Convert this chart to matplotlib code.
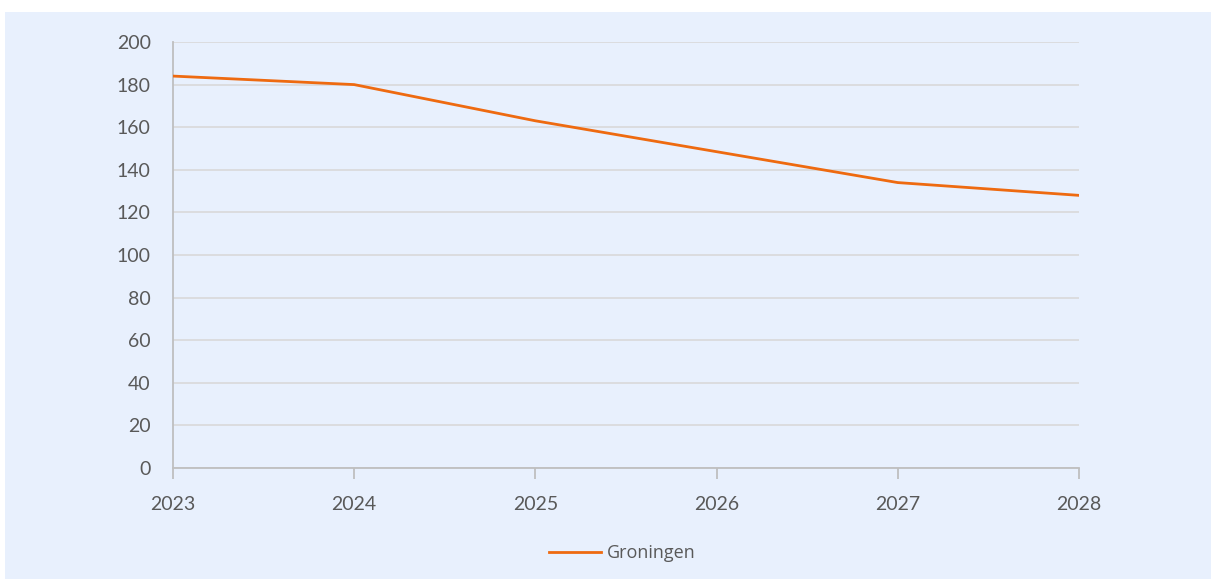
import matplotlib
matplotlib.use("Agg")
import matplotlib.pyplot as plt
from matplotlib.patches import Rectangle

# Data
years = [2023, 2024, 2025, 2026, 2027, 2028]
groningen = [184, 180, 163, 148.5, 134, 128]
y_ticks = [0, 20, 40, 60, 80, 100, 120, 140, 160, 180, 200]

BG = "#E8F0FD"
GRID = "#D9D9D9"
SPINE = "#BFBFBF"
TEXT = "#595959"
ORANGE = "#EE6A10"

fig = plt.figure(figsize=(12.11, 5.79), dpi=100)
fig.patch.set_facecolor("white")
fig.patches.append(Rectangle((5 / 1211, 0), 1, 1 - 12 / 579, transform=fig.transFigure,
                             facecolor=BG, edgecolor="none", zorder=-1))

ax = fig.add_axes([173 / 1211, 1 - 468 / 579, (1079 - 173) / 1211, (468 - 42) / 579])
ax.set_facecolor("none")

ax.plot(years, groningen, color=ORANGE, lw=2, label="Groningen", zorder=3)

ax.set_xlim(2023, 2028)
ax.set_ylim(0, 200)
ax.set_xticks(years)
ax.set_yticks(y_ticks)
ax.grid(axis="y", color=GRID, lw=1.2)
ax.set_axisbelow(True)

for s in ["top", "right"]:
    ax.spines[s].set_visible(False)
for s in ["left", "bottom"]:
    ax.spines[s].set_color(SPINE)
    ax.spines[s].set_linewidth(1.3)

ax.tick_params(axis="x", direction="out", length=8, width=1.3, color=SPINE,
               labelsize=14, labelcolor=TEXT, pad=12)
ax.tick_params(axis="y", length=0, labelsize=14, labelcolor=TEXT, pad=16)
for lab in ax.get_xticklabels() + ax.get_yticklabels():
    lab.set_family("Lato")

leg = ax.legend(loc="center", bbox_to_anchor=(622 / 1211, 1 - 553 / 579),
                bbox_transform=fig.transFigure, frameon=False, handlelength=2.9,
                handletextpad=0.3, prop={"family": "Open Sans", "size": 13})
for t in leg.get_texts():
    t.set_color(TEXT)

fig.savefig("out.png", dpi=100, facecolor=fig.get_facecolor())
